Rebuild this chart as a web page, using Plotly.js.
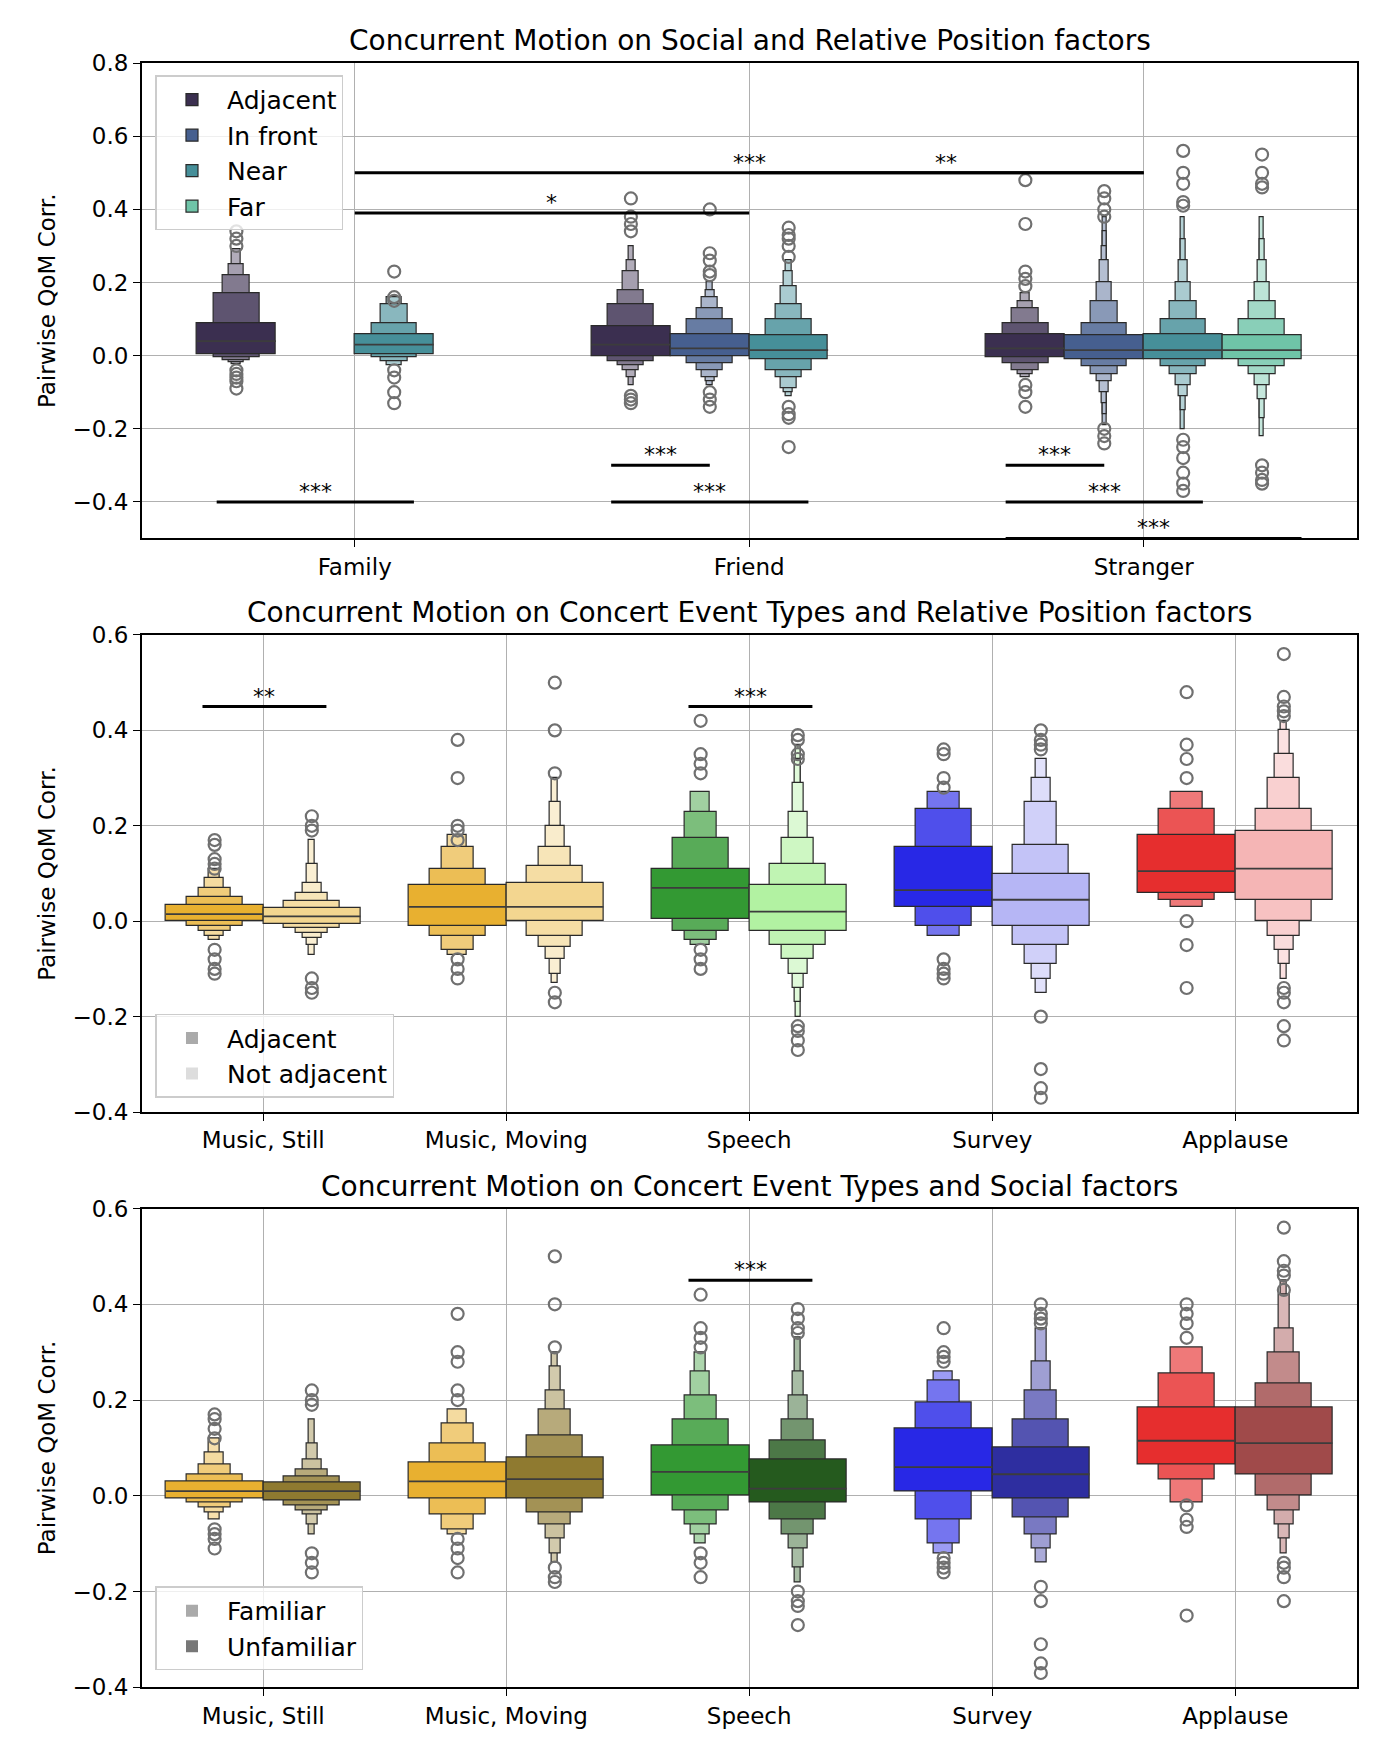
<!DOCTYPE html>
<html>
<head>
<meta charset="utf-8">
<script src="https://cdn.plot.ly/plotly-3.0.1.min.js"></script>
<style>body{margin:0;background:#fff}</style>
</head>
<body>
<div id="myDiv" style="width:1376px;height:1754px"></div>
<script>
// ---- panel 1: social x relative position ----
let socialCats = ['Family', 'Friend', 'Stranger'];
let positionNames = ['Adjacent', 'In front', 'Near', 'Far'];
let positionColors = ['#3b2f50', '#465f8f', '#468f99', '#6fc4a8'];
// each box: [category index, hue index, median, levels [lo,hi] inner->outer, outliers]
let p1Boxes = [
  [0, 0, 0.04, [[0.005,0.09],[-0.005,0.17],[-0.012,0.22],[-0.018,0.25],[-0.022,0.29]], [0.30,0.32,0.34,-0.04,-0.05,-0.06,-0.07,-0.09]],
  [0, 2, 0.03, [[0.005,0.06],[-0.005,0.09],[-0.015,0.14],[-0.025,0.16]], [0.23,0.16,0.15,-0.04,-0.06,-0.10,-0.13]],
  [1, 0, 0.03, [[0.0,0.08],[-0.015,0.14],[-0.025,0.18],[-0.04,0.23],[-0.06,0.26],[-0.08,0.30]], [0.43,0.38,0.36,0.34,-0.11,-0.12,-0.13]],
  [1, 1, 0.02, [[0.0,0.06],[-0.02,0.10],[-0.04,0.13],[-0.06,0.16],[-0.07,0.18],[-0.08,0.20]], [0.40,0.28,0.26,0.23,0.22,-0.10,-0.12,-0.14]],
  [1, 2, 0.015, [[-0.01,0.055],[-0.04,0.10],[-0.06,0.14],[-0.09,0.19],[-0.10,0.23],[-0.11,0.26]], [0.35,0.33,0.32,0.30,0.27,-0.14,-0.16,-0.17,-0.25]],
  [2, 0, 0.02, [[-0.005,0.06],[-0.02,0.09],[-0.04,0.13],[-0.05,0.15],[-0.06,0.17]], [0.48,0.36,0.23,0.21,0.19,-0.08,-0.10,-0.14]],
  [2, 1, 0.015, [[-0.01,0.055],[-0.03,0.09],[-0.05,0.15],[-0.07,0.20],[-0.10,0.26],[-0.13,0.30],[-0.16,0.34],[-0.19,0.38]], [0.45,0.43,0.40,0.38,-0.20,-0.22,-0.24]],
  [2, 2, 0.015, [[-0.01,0.06],[-0.03,0.10],[-0.05,0.15],[-0.08,0.20],[-0.11,0.26],[-0.15,0.32],[-0.20,0.38]], [0.56,0.50,0.47,0.42,0.41,-0.23,-0.25,-0.28,-0.32,-0.35,-0.37]],
  [2, 3, 0.015, [[-0.01,0.055],[-0.03,0.10],[-0.05,0.15],[-0.08,0.20],[-0.12,0.26],[-0.17,0.32],[-0.22,0.38]], [0.55,0.50,0.47,0.46,-0.30,-0.32,-0.34,-0.35]]
];
// significance bars: [x0, x1, y, label]
let p1Sig = [
  [0, 2, 0.50, '***'], [1, 2, 0.50, '**'], [0, 1, 0.39, '*'],
  [-0.35, 0.15, -0.40, '***'],
  [0.65, 0.90, -0.30, '***'], [0.65, 1.15, -0.40, '***'],
  [1.65, 1.90, -0.30, '***'], [1.65, 2.15, -0.40, '***'], [1.65, 2.40, -0.50, '***']
];

// ---- panels 2 and 3: event types ----
let eventCats = ['Music, Still', 'Music, Moving', 'Speech', 'Survey', 'Applause'];
let baseColors = ['#e8b030', '#e8b030', '#339933', '#2828e6', '#e62e2e'];
let lightColors = ['#f3d690', '#f3d690', '#b2f2a2', '#b6b6f5', '#f5b5b5'];
let darkColors = ['#8f7a30', '#8f7a30', '#255a1e', '#2e2ea0', '#a04a4a'];
let adjNames = ['Adjacent', 'Not adjacent'];
let famNames = ['Familiar', 'Unfamiliar'];

let p2Boxes = [
  [0, 0, 0.015, [[0.0,0.035],[-0.01,0.05],[-0.02,0.07],[-0.03,0.09],[-0.04,0.11]], [0.17,0.16,0.13,0.12,0.11,-0.06,-0.08,-0.10,-0.11]],
  [0, 1, 0.01, [[-0.005,0.028],[-0.015,0.042],[-0.025,0.06],[-0.035,0.08],[-0.05,0.12],[-0.07,0.17]], [0.22,0.20,0.19,-0.12,-0.14,-0.15]],
  [1, 0, 0.03, [[-0.01,0.075],[-0.03,0.11],[-0.06,0.155],[-0.07,0.18]], [0.38,0.30,0.20,0.19,0.17,-0.08,-0.10,-0.12]],
  [1, 1, 0.03, [[0.0,0.08],[-0.03,0.115],[-0.055,0.155],[-0.08,0.20],[-0.11,0.25],[-0.13,0.30]], [0.50,0.40,0.31,-0.15,-0.17]],
  [2, 0, 0.07, [[0.005,0.11],[-0.02,0.175],[-0.04,0.23],[-0.05,0.27]], [0.42,0.35,0.33,0.31,-0.06,-0.08,-0.10]],
  [2, 1, 0.02, [[-0.02,0.075],[-0.05,0.12],[-0.08,0.175],[-0.11,0.23],[-0.14,0.29],[-0.17,0.34],[-0.20,0.37]], [0.39,0.38,0.35,0.34,-0.22,-0.23,-0.25,-0.27]],
  [3, 0, 0.065, [[0.03,0.155],[-0.01,0.235],[-0.03,0.27]], [0.36,0.35,0.30,0.28,-0.08,-0.10,-0.11,-0.12]],
  [3, 1, 0.045, [[-0.01,0.10],[-0.05,0.16],[-0.09,0.25],[-0.12,0.30],[-0.15,0.34]], [0.40,0.38,0.37,0.36,-0.20,-0.31,-0.35,-0.37]],
  [4, 0, 0.105, [[0.06,0.18],[0.045,0.235],[0.03,0.27]], [0.48,0.37,0.34,0.30,0.0,-0.05,-0.14]],
  [4, 1, 0.11, [[0.045,0.19],[0.0,0.235],[-0.03,0.30],[-0.06,0.35],[-0.09,0.40],[-0.12,0.42]], [0.56,0.47,0.45,0.44,0.43,-0.14,-0.15,-0.17,-0.22,-0.25]]
];
let p2Sig = [[-0.25, 0.26, 0.45, '**'], [1.75, 2.26, 0.45, '***']];

let p3Boxes = [
  [0, 0, 0.01, [[-0.005,0.03],[-0.015,0.045],[-0.025,0.065],[-0.035,0.09],[-0.05,0.12]], [0.17,0.16,0.14,0.12,-0.07,-0.08,-0.09,-0.11]],
  [0, 1, 0.01, [[-0.01,0.028],[-0.02,0.04],[-0.03,0.055],[-0.04,0.075],[-0.06,0.11],[-0.08,0.16]], [0.22,0.20,0.19,-0.12,-0.14,-0.16]],
  [1, 0, 0.03, [[-0.005,0.07],[-0.04,0.11],[-0.07,0.15],[-0.08,0.18]], [0.38,0.30,0.28,0.22,0.20,-0.09,-0.11,-0.13,-0.16]],
  [1, 1, 0.035, [[-0.005,0.08],[-0.035,0.125],[-0.06,0.18],[-0.09,0.22],[-0.12,0.27],[-0.14,0.30]], [0.50,0.40,0.31,-0.15,-0.17,-0.18]],
  [2, 0, 0.05, [[0.0,0.105],[-0.03,0.16],[-0.06,0.21],[-0.08,0.26],[-0.10,0.30]], [0.42,0.35,0.33,0.31,-0.12,-0.14,-0.17]],
  [2, 1, 0.015, [[-0.015,0.075],[-0.05,0.115],[-0.08,0.16],[-0.11,0.21],[-0.15,0.26],[-0.18,0.33]], [0.39,0.37,0.35,0.34,-0.20,-0.22,-0.23,-0.27]],
  [3, 0, 0.06, [[0.01,0.14],[-0.05,0.195],[-0.10,0.24],[-0.12,0.26]], [0.35,0.30,0.29,0.28,-0.13,-0.14,-0.15,-0.16]],
  [3, 1, 0.045, [[-0.005,0.10],[-0.045,0.16],[-0.08,0.22],[-0.11,0.28],[-0.14,0.35]], [0.40,0.38,0.37,0.36,-0.19,-0.22,-0.31,-0.35,-0.37]],
  [4, 0, 0.115, [[0.065,0.185],[0.035,0.255],[-0.015,0.31]], [0.40,0.38,0.36,0.33,-0.02,-0.05,-0.065,-0.25]],
  [4, 1, 0.11, [[0.045,0.185],[0.0,0.235],[-0.03,0.30],[-0.06,0.35],[-0.09,0.42],[-0.12,0.45]], [0.56,0.49,0.47,0.46,0.43,-0.14,-0.15,-0.17,-0.22]]
];
let p3Sig = [[1.75, 2.26, 0.45, '***']];

function mixWhite(hex, t) {
  let r = parseInt(hex.slice(1,3),16), g = parseInt(hex.slice(3,5),16), b = parseInt(hex.slice(5,7),16);
  let f = c => Math.round(c + (255 - c) * t);
  return 'rgb(' + f(r) + ',' + f(g) + ',' + f(b) + ')';
}

let data = [];
let annotations = [];

function addBoxen(box, offsets, width, color, ax) {
  let [cat, hue, med, levels, outl] = box;
  let x = cat + offsets[hue];
  let n = levels.length;
  // outermost (narrowest) first so inner boxes sit on top
  for (let k = n - 1; k >= 0; k--) {
    data.push({
      type: 'bar', x: [x], y: [levels[k][1] - levels[k][0]], base: [levels[k][0]],
      width: [Math.max(width * Math.pow(0.58, k), width * 0.05)],
      marker: {color: mixWhite(color, Math.min(0.6, k * 0.18)), line: {color: '#2a2a2a', width: 1.2}},
      xaxis: 'x' + ax, yaxis: 'y' + ax, showlegend: false, hoverinfo: 'skip'
    });
  }
  data.push({
    type: 'scatter', mode: 'lines', x: [x - width / 2, x + width / 2], y: [med, med],
    line: {color: '#3c3c3c', width: 1.8}, xaxis: 'x' + ax, yaxis: 'y' + ax, showlegend: false, hoverinfo: 'skip'
  });
  data.push({
    type: 'scatter', mode: 'markers', x: outl.map(() => x), y: outl,
    marker: {symbol: 'circle-open', size: 12, color: '#707070', line: {width: 2.2}},
    xaxis: 'x' + ax, yaxis: 'y' + ax, showlegend: false, hoverinfo: 'skip'
  });
}

function addSig(sig, ax) {
  sig.forEach(s => {
    data.push({
      type: 'scatter', mode: 'lines', x: [s[0], s[1]], y: [s[2], s[2]],
      line: {color: '#000', width: 3}, xaxis: 'x' + ax, yaxis: 'y' + ax, showlegend: false, hoverinfo: 'skip'
    });
    annotations.push({
      x: (s[0] + s[1]) / 2, y: s[2], xref: 'x' + ax, yref: 'y' + ax, text: s[3],
      showarrow: false, yanchor: 'bottom', yshift: -4, font: {size: 22, color: '#000'}
    });
  });
}

p1Boxes.forEach(b => addBoxen(b, [-0.3, -0.1, 0.1, 0.3], 0.2, positionColors[b[1]], ''));
p2Boxes.forEach(b => addBoxen(b, [-0.2, 0.2], 0.4, b[1] === 0 ? baseColors[b[0]] : lightColors[b[0]], '2'));
p3Boxes.forEach(b => addBoxen(b, [-0.2, 0.2], 0.4, b[1] === 0 ? baseColors[b[0]] : darkColors[b[0]], '3'));
addSig(p1Sig, '');
addSig(p2Sig, '2');
addSig(p3Sig, '3');

// legend entries
positionNames.forEach((nm, i) => data.push({
  type: 'bar', x: [null], y: [null], name: nm, legend: 'legend',
  marker: {color: positionColors[i], line: {color: '#2a2a2a', width: 1.2}}
}));
adjNames.forEach((nm, i) => data.push({
  type: 'bar', x: [null], y: [null], name: nm, legend: 'legend2', xaxis: 'x2', yaxis: 'y2',
  marker: {color: ['#aaaaaa', '#dddddd'][i]}
}));
famNames.forEach((nm, i) => data.push({
  type: 'bar', x: [null], y: [null], name: nm, legend: 'legend3', xaxis: 'x3', yaxis: 'y3',
  marker: {color: ['#aaaaaa', '#777777'][i]}
}));

let titles = [
  ['Concurrent Motion on Social and Relative Position factors', 0.964],
  ['Concurrent Motion on Concert Event Types and Relative Position factors', 0.638],
  ['Concurrent Motion on Concert Event Types and Social factors', 0.311]
];
titles.forEach(t => annotations.push({
  text: t[0], xref: 'paper', yref: 'paper', x: 0.545, y: t[1], yanchor: 'bottom', yshift: 4,
  showarrow: false, font: {size: 28, color: '#000'}
}));

let tickFont = {size: 23, color: '#000'};
function xAx(cats, range, dom) {
  return {domain: [0.103, 0.986], range: range, tickvals: cats.map((c, i) => i), ticktext: cats,
    showgrid: true, gridcolor: '#b0b0b0', gridwidth: 1.2, showline: true, mirror: true, linecolor: '#000', linewidth: 1.5,
    ticks: 'outside', ticklen: 7, tickcolor: '#000', tickfont: tickFont, zeroline: false, anchor: dom};
}
function yAx(range, dom, anchor) {
  return {domain: dom, range: range, dtick: 0.2, tickformat: '.1f', anchor: anchor,
    showgrid: true, gridcolor: '#b0b0b0', gridwidth: 1.2, showline: true, mirror: true, linecolor: '#000', linewidth: 1.5,
    ticks: 'outside', ticklen: 7, tickcolor: '#000', tickfont: tickFont, zeroline: false,
    title: {text: 'Pairwise QoM Corr.', font: {size: 23, color: '#000'}, standoff: 10}};
}
let legendStyle = {bgcolor: 'rgba(255,255,255,0.8)', bordercolor: '#cccccc', borderwidth: 1.5,
  font: {size: 25, color: '#000'}, xanchor: 'left', yanchor: 'top', itemwidth: 60, tracegroupgap: 2};

let layout = {
  width: 1376, height: 1754, margin: {l: 0, r: 0, t: 0, b: 0},
  paper_bgcolor: '#fff', plot_bgcolor: '#fff', barmode: 'overlay', bargap: 0,
  font: {family: 'DejaVu Sans', color: '#000'},
  xaxis: xAx(socialCats, [-0.54, 2.54], 'y'),
  yaxis: yAx([-0.5, 0.8], [0.693, 0.964], 'x'),
  xaxis2: xAx(eventCats, [-0.5, 4.5], 'y2'),
  yaxis2: yAx([-0.4, 0.6], [0.366, 0.638], 'x2'),
  xaxis3: xAx(eventCats, [-0.5, 4.5], 'y3'),
  yaxis3: yAx([-0.4, 0.6], [0.038, 0.311], 'x3'),
  legend: Object.assign({x: 0.113, y: 0.957}, legendStyle),
  legend2: Object.assign({x: 0.113, y: 0.422}, legendStyle),
  legend3: Object.assign({x: 0.113, y: 0.0955}, legendStyle),
  annotations: annotations
};
Plotly.newPlot('myDiv', data, layout, {displayModeBar: false});
</script>
</body>
</html>
